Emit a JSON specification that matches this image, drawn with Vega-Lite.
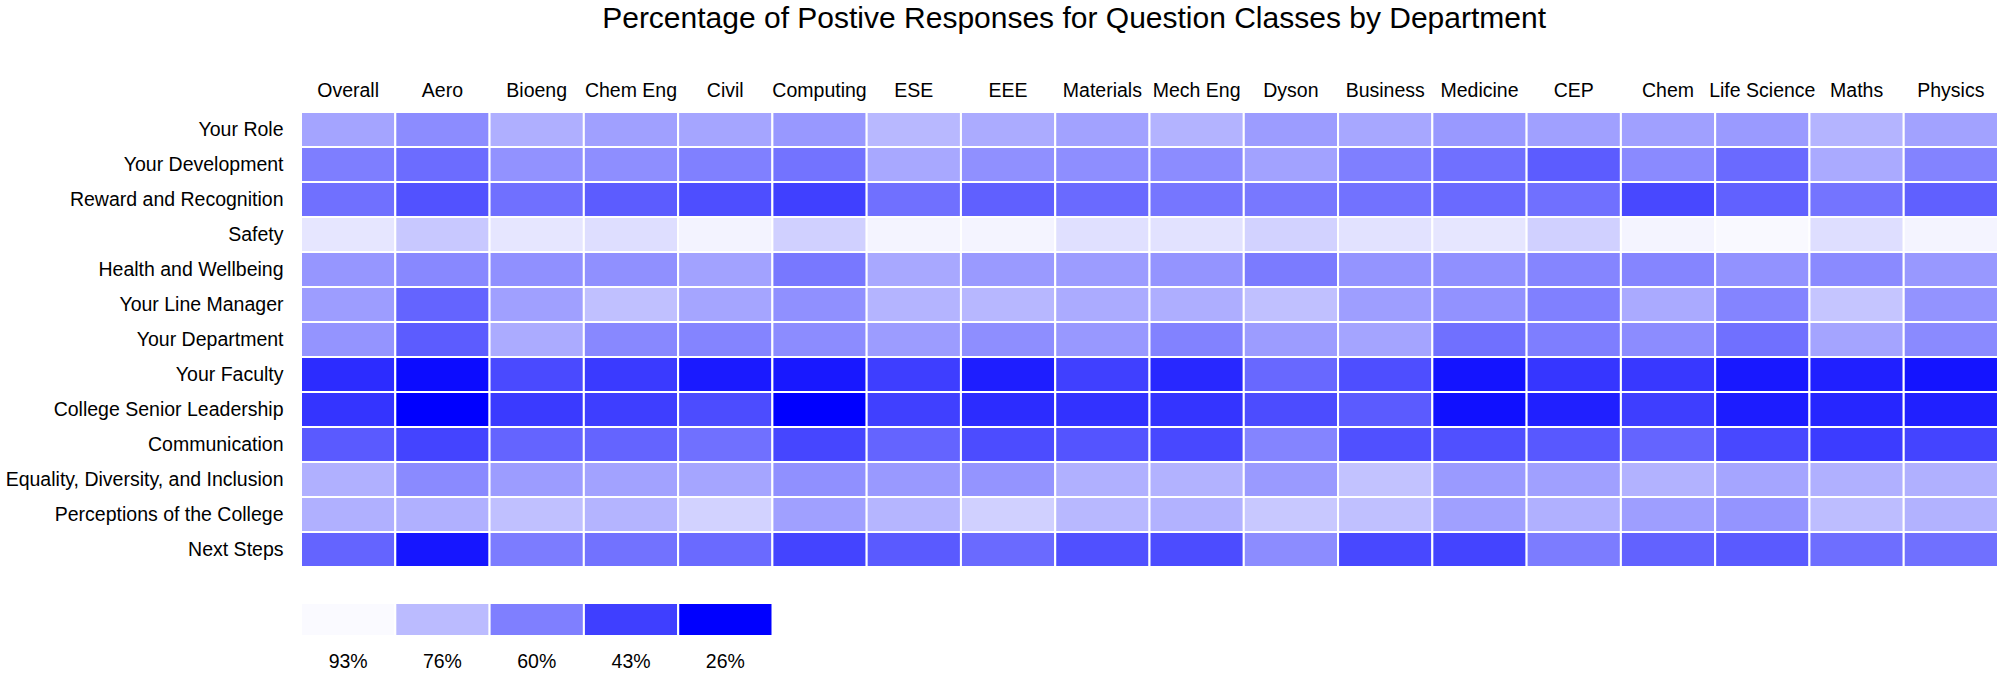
{
"$schema": "https://vega.github.io/schema/vega-lite/v6.json",
"padding": {"left": 5, "top": 4, "right": 0, "bottom": 0},
"bounds": "flush",
"spacing": 36,
"resolve": {"scale": {"x": "independent", "color": "shared"}},
"config": {"view": {"stroke": null}, "font": "Liberation Sans"},
"title": {"text": "Percentage of Postive Responses for Question Classes by Department", "font": "Liberation Sans", "fontSize": 30, "fontWeight": "normal", "color": "#000000", "anchor": "middle", "dx": 72, "offset": 46},
"datasets": {
"legend": [
{"pct": 93, "label": "93%"},
{"pct": 76, "label": "76%"},
{"pct": 60, "label": "60%"},
{"pct": 43, "label": "43%"},
{"pct": 26, "label": "26%"}
],
"cells": [
{"question":"Your Role","department":"Overall","pct":70},
{"question":"Your Role","department":"Aero","pct":63.5},
{"question":"Your Role","department":"Bioeng","pct":73},
{"question":"Your Role","department":"Chem Eng","pct":69},
{"question":"Your Role","department":"Civil","pct":70.2},
{"question":"Your Role","department":"Computing","pct":66.7},
{"question":"Your Role","department":"ESE","pct":75.3},
{"question":"Your Role","department":"EEE","pct":71.8},
{"question":"Your Role","department":"Materials","pct":69.4},
{"question":"Your Role","department":"Mech Eng","pct":74},
{"question":"Your Role","department":"Dyson","pct":67.8},
{"question":"Your Role","department":"Business","pct":70.8},
{"question":"Your Role","department":"Medicine","pct":67},
{"question":"Your Role","department":"CEP","pct":69},
{"question":"Your Role","department":"Chem","pct":69},
{"question":"Your Role","department":"Life Science","pct":67.3},
{"question":"Your Role","department":"Maths","pct":74.2},
{"question":"Your Role","department":"Physics","pct":69.4},
{"question":"Your Development","department":"Overall","pct":59.8},
{"question":"Your Development","department":"Aero","pct":55},
{"question":"Your Development","department":"Bioeng","pct":65},
{"question":"Your Development","department":"Chem Eng","pct":64},
{"question":"Your Development","department":"Civil","pct":60.3},
{"question":"Your Development","department":"Computing","pct":56.8},
{"question":"Your Development","department":"ESE","pct":71},
{"question":"Your Development","department":"EEE","pct":64.6},
{"question":"Your Development","department":"Materials","pct":64},
{"question":"Your Development","department":"Mech Eng","pct":63.5},
{"question":"Your Development","department":"Dyson","pct":69.4},
{"question":"Your Development","department":"Business","pct":60},
{"question":"Your Development","department":"Medicine","pct":56},
{"question":"Your Development","department":"CEP","pct":50.7},
{"question":"Your Development","department":"Chem","pct":63},
{"question":"Your Development","department":"Life Science","pct":54.4},
{"question":"Your Development","department":"Maths","pct":71.6},
{"question":"Your Development","department":"Physics","pct":61},
{"question":"Reward and Recognition","department":"Overall","pct":56},
{"question":"Reward and Recognition","department":"Aero","pct":47.9},
{"question":"Reward and Recognition","department":"Bioeng","pct":56},
{"question":"Reward and Recognition","department":"Chem Eng","pct":50.7},
{"question":"Reward and Recognition","department":"Civil","pct":47},
{"question":"Reward and Recognition","department":"Computing","pct":43.2},
{"question":"Reward and Recognition","department":"ESE","pct":56},
{"question":"Reward and Recognition","department":"EEE","pct":51.7},
{"question":"Reward and Recognition","department":"Materials","pct":54.4},
{"question":"Reward and Recognition","department":"Mech Eng","pct":57.6},
{"question":"Reward and Recognition","department":"Dyson","pct":58.2},
{"question":"Reward and Recognition","department":"Business","pct":56.6},
{"question":"Reward and Recognition","department":"Medicine","pct":54.4},
{"question":"Reward and Recognition","department":"CEP","pct":56},
{"question":"Reward and Recognition","department":"Chem","pct":45.3},
{"question":"Reward and Recognition","department":"Life Science","pct":52},
{"question":"Reward and Recognition","department":"Maths","pct":57},
{"question":"Reward and Recognition","department":"Physics","pct":51.7},
{"question":"Safety","department":"Overall","pct":87.6},
{"question":"Safety","department":"Aero","pct":79.6},
{"question":"Safety","department":"Bioeng","pct":87.6},
{"question":"Safety","department":"Chem Eng","pct":85.5},
{"question":"Safety","department":"Civil","pct":91.1},
{"question":"Safety","department":"Computing","pct":81.7},
{"question":"Safety","department":"ESE","pct":91.4},
{"question":"Safety","department":"EEE","pct":91.4},
{"question":"Safety","department":"Materials","pct":86},
{"question":"Safety","department":"Mech Eng","pct":86.6},
{"question":"Safety","department":"Dyson","pct":82.3},
{"question":"Safety","department":"Business","pct":86.6},
{"question":"Safety","department":"Medicine","pct":87.6},
{"question":"Safety","department":"CEP","pct":81.7},
{"question":"Safety","department":"Chem","pct":91.4},
{"question":"Safety","department":"Life Science","pct":92.7},
{"question":"Safety","department":"Maths","pct":85.5},
{"question":"Safety","department":"Physics","pct":91.4},
{"question":"Health and Wellbeing","department":"Overall","pct":66.2},
{"question":"Health and Wellbeing","department":"Aero","pct":62.4},
{"question":"Health and Wellbeing","department":"Bioeng","pct":64.6},
{"question":"Health and Wellbeing","department":"Chem Eng","pct":64.6},
{"question":"Health and Wellbeing","department":"Civil","pct":69.4},
{"question":"Health and Wellbeing","department":"Computing","pct":58.2},
{"question":"Health and Wellbeing","department":"ESE","pct":71},
{"question":"Health and Wellbeing","department":"EEE","pct":67.3},
{"question":"Health and Wellbeing","department":"Materials","pct":67.8},
{"question":"Health and Wellbeing","department":"Mech Eng","pct":65.7},
{"question":"Health and Wellbeing","department":"Dyson","pct":59},
{"question":"Health and Wellbeing","department":"Business","pct":65.7},
{"question":"Health and Wellbeing","department":"Medicine","pct":64.6},
{"question":"Health and Wellbeing","department":"CEP","pct":61.6},
{"question":"Health and Wellbeing","department":"Chem","pct":61.6},
{"question":"Health and Wellbeing","department":"Life Science","pct":65.1},
{"question":"Health and Wellbeing","department":"Maths","pct":63},
{"question":"Health and Wellbeing","department":"Physics","pct":66.7},
{"question":"Your Line Manager","department":"Overall","pct":68.1},
{"question":"Your Line Manager","department":"Aero","pct":52.8},
{"question":"Your Line Manager","department":"Bioeng","pct":68.9},
{"question":"Your Line Manager","department":"Chem Eng","pct":77.5},
{"question":"Your Line Manager","department":"Civil","pct":70.2},
{"question":"Your Line Manager","department":"Computing","pct":64.6},
{"question":"Your Line Manager","department":"ESE","pct":74.2},
{"question":"Your Line Manager","department":"EEE","pct":75},
{"question":"Your Line Manager","department":"Materials","pct":71.8},
{"question":"Your Line Manager","department":"Mech Eng","pct":72.6},
{"question":"Your Line Manager","department":"Dyson","pct":77.5},
{"question":"Your Line Manager","department":"Business","pct":68.3},
{"question":"Your Line Manager","department":"Medicine","pct":65.1},
{"question":"Your Line Manager","department":"CEP","pct":60.3},
{"question":"Your Line Manager","department":"Chem","pct":71.6},
{"question":"Your Line Manager","department":"Life Science","pct":61.4},
{"question":"Your Line Manager","department":"Maths","pct":78.8},
{"question":"Your Line Manager","department":"Physics","pct":65.5},
{"question":"Your Department","department":"Overall","pct":65.7},
{"question":"Your Department","department":"Aero","pct":50.7},
{"question":"Your Department","department":"Bioeng","pct":71.8},
{"question":"Your Department","department":"Chem Eng","pct":62.4},
{"question":"Your Department","department":"Civil","pct":61.4},
{"question":"Your Department","department":"Computing","pct":63.5},
{"question":"Your Department","department":"ESE","pct":67.8},
{"question":"Your Department","department":"EEE","pct":64.1},
{"question":"Your Department","department":"Materials","pct":66.7},
{"question":"Your Department","department":"Mech Eng","pct":60.8},
{"question":"Your Department","department":"Dyson","pct":67.8},
{"question":"Your Department","department":"Business","pct":70},
{"question":"Your Department","department":"Medicine","pct":56},
{"question":"Your Department","department":"CEP","pct":59.8},
{"question":"Your Department","department":"Chem","pct":63.5},
{"question":"Your Department","department":"Life Science","pct":56},
{"question":"Your Department","department":"Maths","pct":70},
{"question":"Your Department","department":"Physics","pct":63},
{"question":"Your Faculty","department":"Overall","pct":37.8},
{"question":"Your Faculty","department":"Aero","pct":29.2},
{"question":"Your Faculty","department":"Bioeng","pct":45.8},
{"question":"Your Faculty","department":"Chem Eng","pct":41.5},
{"question":"Your Faculty","department":"Civil","pct":33},
{"question":"Your Faculty","department":"Computing","pct":32.4},
{"question":"Your Faculty","department":"ESE","pct":42.6},
{"question":"Your Faculty","department":"EEE","pct":34},
{"question":"Your Faculty","department":"Materials","pct":43.2},
{"question":"Your Faculty","department":"Mech Eng","pct":36.7},
{"question":"Your Faculty","department":"Dyson","pct":53.9},
{"question":"Your Faculty","department":"Business","pct":46.9},
{"question":"Your Faculty","department":"Medicine","pct":31.4},
{"question":"Your Faculty","department":"CEP","pct":40.5},
{"question":"Your Faculty","department":"Chem","pct":41},
{"question":"Your Faculty","department":"Life Science","pct":32.4},
{"question":"Your Faculty","department":"Maths","pct":34.6},
{"question":"Your Faculty","department":"Physics","pct":31.4},
{"question":"College Senior Leadership","department":"Overall","pct":39.9},
{"question":"College Senior Leadership","department":"Aero","pct":26},
{"question":"College Senior Leadership","department":"Bioeng","pct":41.5},
{"question":"College Senior Leadership","department":"Chem Eng","pct":42.6},
{"question":"College Senior Leadership","department":"Civil","pct":46.4},
{"question":"College Senior Leadership","department":"Computing","pct":26},
{"question":"College Senior Leadership","department":"ESE","pct":43.2},
{"question":"College Senior Leadership","department":"EEE","pct":37.8},
{"question":"College Senior Leadership","department":"Materials","pct":39.4},
{"question":"College Senior Leadership","department":"Mech Eng","pct":39.9},
{"question":"College Senior Leadership","department":"Dyson","pct":46.4},
{"question":"College Senior Leadership","department":"Business","pct":50.4},
{"question":"College Senior Leadership","department":"Medicine","pct":30.3},
{"question":"College Senior Leadership","department":"CEP","pct":34.6},
{"question":"College Senior Leadership","department":"Chem","pct":42.6},
{"question":"College Senior Leadership","department":"Life Science","pct":33.5},
{"question":"College Senior Leadership","department":"Maths","pct":36.2},
{"question":"College Senior Leadership","department":"Physics","pct":34.6},
{"question":"Communication","department":"Overall","pct":50.1},
{"question":"Communication","department":"Aero","pct":44.2},
{"question":"Communication","department":"Bioeng","pct":52.8},
{"question":"Communication","department":"Chem Eng","pct":52.8},
{"question":"Communication","department":"Civil","pct":56},
{"question":"Communication","department":"Computing","pct":44.8},
{"question":"Communication","department":"ESE","pct":52.8},
{"question":"Communication","department":"EEE","pct":46.4},
{"question":"Communication","department":"Materials","pct":48.5},
{"question":"Communication","department":"Mech Eng","pct":45.3},
{"question":"Communication","department":"Dyson","pct":61.4},
{"question":"Communication","department":"Business","pct":47.4},
{"question":"Communication","department":"Medicine","pct":47.4},
{"question":"Communication","department":"CEP","pct":49.6},
{"question":"Communication","department":"Chem","pct":52.8},
{"question":"Communication","department":"Life Science","pct":45.3},
{"question":"Communication","department":"Maths","pct":42.1},
{"question":"Communication","department":"Physics","pct":44.2},
{"question":"Equality, Diversity, and Inclusion","department":"Overall","pct":73.2},
{"question":"Equality, Diversity, and Inclusion","department":"Aero","pct":63},
{"question":"Equality, Diversity, and Inclusion","department":"Bioeng","pct":67.8},
{"question":"Equality, Diversity, and Inclusion","department":"Chem Eng","pct":69.4},
{"question":"Equality, Diversity, and Inclusion","department":"Civil","pct":70.2},
{"question":"Equality, Diversity, and Inclusion","department":"Computing","pct":64.6},
{"question":"Equality, Diversity, and Inclusion","department":"ESE","pct":67},
{"question":"Equality, Diversity, and Inclusion","department":"EEE","pct":65.7},
{"question":"Equality, Diversity, and Inclusion","department":"Materials","pct":73.2},
{"question":"Equality, Diversity, and Inclusion","department":"Mech Eng","pct":73.7},
{"question":"Equality, Diversity, and Inclusion","department":"Dyson","pct":67.3},
{"question":"Equality, Diversity, and Inclusion","department":"Business","pct":78},
{"question":"Equality, Diversity, and Inclusion","department":"Medicine","pct":67.3},
{"question":"Equality, Diversity, and Inclusion","department":"CEP","pct":68.9},
{"question":"Equality, Diversity, and Inclusion","department":"Chem","pct":73.7},
{"question":"Equality, Diversity, and Inclusion","department":"Life Science","pct":70.2},
{"question":"Equality, Diversity, and Inclusion","department":"Maths","pct":73.2},
{"question":"Equality, Diversity, and Inclusion","department":"Physics","pct":73.2},
{"question":"Perceptions of the College","department":"Overall","pct":73.2},
{"question":"Perceptions of the College","department":"Aero","pct":73.2},
{"question":"Perceptions of the College","department":"Bioeng","pct":77.5},
{"question":"Perceptions of the College","department":"Chem Eng","pct":74.2},
{"question":"Perceptions of the College","department":"Civil","pct":82.3},
{"question":"Perceptions of the College","department":"Computing","pct":68.9},
{"question":"Perceptions of the College","department":"ESE","pct":74.5},
{"question":"Perceptions of the College","department":"EEE","pct":81.7},
{"question":"Perceptions of the College","department":"Materials","pct":75.3},
{"question":"Perceptions of the College","department":"Mech Eng","pct":73.7},
{"question":"Perceptions of the College","department":"Dyson","pct":79.6},
{"question":"Perceptions of the College","department":"Business","pct":77.5},
{"question":"Perceptions of the College","department":"Medicine","pct":68.9},
{"question":"Perceptions of the College","department":"CEP","pct":73.2},
{"question":"Perceptions of the College","department":"Chem","pct":68.3},
{"question":"Perceptions of the College","department":"Life Science","pct":65.7},
{"question":"Perceptions of the College","department":"Maths","pct":76.7},
{"question":"Perceptions of the College","department":"Physics","pct":73.7},
{"question":"Next Steps","department":"Overall","pct":52.8},
{"question":"Next Steps","department":"Aero","pct":31.9},
{"question":"Next Steps","department":"Bioeng","pct":59.2},
{"question":"Next Steps","department":"Chem Eng","pct":56.6},
{"question":"Next Steps","department":"Civil","pct":54.4},
{"question":"Next Steps","department":"Computing","pct":44.2},
{"question":"Next Steps","department":"ESE","pct":50.1},
{"question":"Next Steps","department":"EEE","pct":54.4},
{"question":"Next Steps","department":"Materials","pct":47.4},
{"question":"Next Steps","department":"Mech Eng","pct":46.4},
{"question":"Next Steps","department":"Dyson","pct":63.5},
{"question":"Next Steps","department":"Business","pct":45.3},
{"question":"Next Steps","department":"Medicine","pct":44.2},
{"question":"Next Steps","department":"CEP","pct":59.2},
{"question":"Next Steps","department":"Chem","pct":52.3},
{"question":"Next Steps","department":"Life Science","pct":50.1},
{"question":"Next Steps","department":"Maths","pct":55.5},
{"question":"Next Steps","department":"Physics","pct":56}
]
},
"vconcat": [
{
"width": 1697,
"height": 455,
"data": {"name": "cells"},
"mark": {"type": "rect", "stroke": "#ffffff", "strokeWidth": 2},
"encoding": {
"x": {"field": "department", "type": "nominal", "sort": null, "scale": {"paddingInner": 0, "paddingOuter": 0},
"axis": {"orient": "top", "title": null, "labelAngle": 0, "labelFontSize": 19.5, "labelColor": "#000000", "ticks": false, "tickSize": 0, "domain": false, "labelPadding": 12}},
"y": {"field": "question", "type": "nominal", "sort": null, "scale": {"paddingInner": 0, "paddingOuter": 0},
"axis": {"title": null, "labelFontSize": 19.5, "labelColor": "#000000", "ticks": false, "tickSize": 0, "domain": false, "labelPadding": 18, "labelLimit": 400}},
"color": {"field": "pct", "type": "quantitative", "scale": {"domain": [26, 93], "range": ["#0000ff", "#fafaff"], "interpolate": "rgb"}, "legend": null}
}
},
{
"width": 471.5,
"height": 33,
"data": {"name": "legend"},
"mark": {"type": "rect", "stroke": "#ffffff", "strokeWidth": 2},
"encoding": {
"x": {"field": "label", "type": "nominal", "sort": null, "scale": {"paddingInner": 0, "paddingOuter": 0},
"axis": {"orient": "bottom", "title": null, "labelAngle": 0, "labelFontSize": 19.5, "labelColor": "#000000", "ticks": false, "tickSize": 0, "domain": false, "labelPadding": 16}},
"color": {"field": "pct", "type": "quantitative", "scale": {"domain": [26, 93], "range": ["#0000ff", "#fafaff"], "interpolate": "rgb"}, "legend": null}
}
}
]
}
